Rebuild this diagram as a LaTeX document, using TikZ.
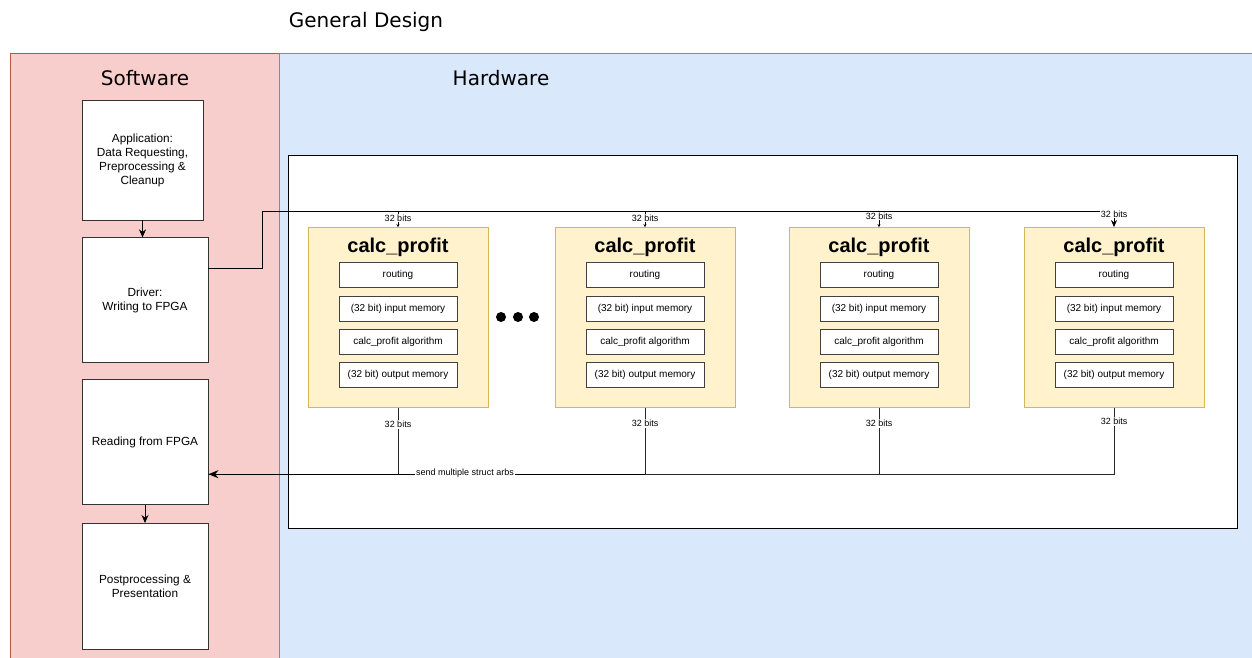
\documentclass[tikz,border=0pt]{standalone}
\usepackage{fontspec}
\setmainfont{Liberation Sans}
\newfontfamily\headfont{DejaVu Sans}
\usetikzlibrary{arrows.meta, positioning, calc}
\definecolor{swfill}{HTML}{F8CECC}
\definecolor{swline}{HTML}{B85450}
\definecolor{hwfill}{HTML}{DAE8FC}
\definecolor{hwline}{HTML}{6C8EBF}
\definecolor{cpfill}{HTML}{FFF2CC}
\definecolor{cpline}{HTML}{D6B656}

\begin{document}
\begin{tikzpicture}[x=1pt, y=-1pt, node distance=17pt,
  swbox/.style={draw=black!80, fill=white, line width=0.8pt, minimum width=126pt, minimum height=125pt, align=center, inner sep=0pt, font=\fontsize{11.8}{14}\selectfont},
  module/.style={draw=cpline, fill=cpfill, line width=0.8pt, minimum width=180pt, minimum height=180pt, inner sep=0pt},
  part/.style={draw=black!75, fill=white, line width=1pt, minimum width=118pt, minimum height=25pt, inner sep=0pt, font=\fontsize{10}{12}\selectfont},
  bits/.style={fill=white, inner sep=1pt, font=\fontsize{9}{10}\selectfont},
  wire/.style={black, line width=0.9pt},
  head/.style={font=\headfont\fontsize{20}{24}\selectfont}]
  \clip (0,0) rectangle (1252,658);
  \fill[white] (0,0) rectangle (1252,658);
  % lanes
  \draw[swline, fill=swfill] (10,53) rectangle (279,680);
  \draw[hwline, fill=hwfill] (279,53) rectangle (1270,680);
  \node[head] (title) at (366,22) {General Design};
  \node[head] (sw) at (145,78) {Software};
  \node[head] (hw) at (501,78) {Hardware};
  \draw[black, line width=0.8pt, fill=white] (288,155) rectangle (1237,528);

  % software side
  \node[swbox, minimum width=121pt, minimum height=120pt] (app) at (142.5,160) {Application:\\Data Requesting,\\Preprocessing \&\\Cleanup};
  \node[swbox, below=17pt of app.south west, anchor=north west] (drv) {Driver:\\Writing to FPGA};
  \node[swbox, below=16pt of drv] (rd) {Reading from FPGA};
  \node[swbox, below=18pt of rd, minimum height=126pt] (post) {Postprocessing \&\\Presentation};
  \draw[wire, -{Stealth[length=8pt,width=7pt]}] (app.south) -- (app.south |- drv.north);
  \draw[wire, -{Stealth[length=8pt,width=7pt]}] (rd) -- (post);

  % hardware modules
  \foreach \i/\cx in {1/398, 2/645, 3/879, 4/1114} {
    \node[module] (cp\i) at (\cx,317.5) {};
    \node[font=\bfseries\fontsize{20}{24}\selectfont] (cpt\i) at (\cx,247) {calc\_profit};
    \node[part] (rt\i) at (\cx,275) {\raisebox{3pt}{routing}};
    \node[part] (im\i) at (\cx,309) {(32 bit) input memory};
    \node[part] (al\i) at (\cx,342) {calc\_profit algorithm};
    \node[part] (om\i) at (\cx,375) {(32 bit) output memory};
  }
  \foreach \dx in {501,518,534}
    \fill (\dx,317) circle (5pt);

  % write path
  \coordinate (drvout) at ($(drv.north east)+(0,31)$);
  \coordinate (busL) at (262,211);
  \draw[wire, -{Stealth[length=7pt,width=6pt]}] (drvout) -| (busL) -| (cp4.north);
  \foreach \i in {1,2,3}
    \draw[wire, -{Stealth[length=3pt,width=3pt]}] (cp\i.north |- busL) -- (cp\i.north);
  \foreach \i/\dy in {1/-9, 2/-9, 3/-11, 4/-13}
    \node[bits] at ($(cp\i.north)+(0,\dy)$) {32 bits};

  % read path
  \coordinate (rdin) at ($(rd.north east)+(0,95)$);
  \foreach \i in {1,2,3,4}
    \draw[wire, black!85] (cp\i.south) |- (rdin);
  \draw[wire, line width=1.4pt, -{Stealth[length=10pt,width=8pt]}] (cp2.south |- rdin) -- (rdin);
  \foreach \i/\dy in {1/16.5, 2/15.5, 3/15.5, 4/13.5}
    \node[bits] at ($(cp\i.south)+(0,\dy)$) {32 bits};
  \node[bits] (arbs) at (465,473) {send multiple struct arbs};
\end{tikzpicture}
\end{document}
